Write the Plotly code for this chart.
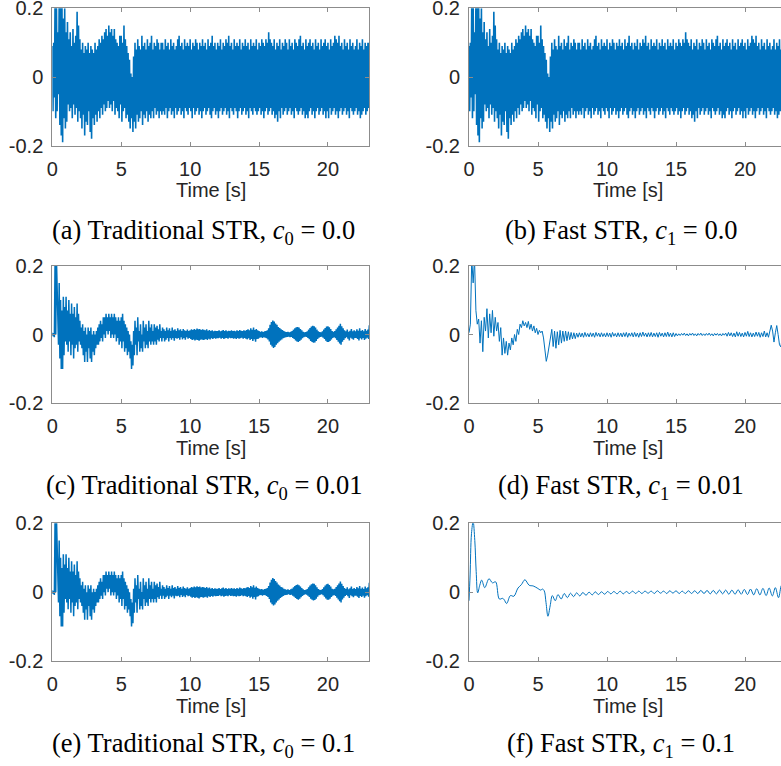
import plotly.graph_objects as go

# ---------------------------------------------------------------------------
# Data: response signals sampled every 0.1 s over 0 ... 23 s
# ---------------------------------------------------------------------------
time = [round(0.1 * i, 1) for i in range(231)]

# c = 0.0 : dense oscillation, upper / lower excursion per 0.1 s window
trad_c00_hi = [
    0.09, 0.10, 0.22, 0.22, 0.13, 0.22, 0.21, 0.22, 0.17, 0.20,
    0.13, 0.16, 0.11, 0.13, 0.09, 0.14, 0.10, 0.12, 0.19, 0.15,
    0.11, 0.08, 0.10, 0.07, 0.09, 0.08, 0.10, 0.07, 0.09, 0.08,
    0.07, 0.10, 0.08, 0.09, 0.11, 0.10, 0.12, 0.11, 0.13, 0.14,
    0.12, 0.15, 0.13, 0.14, 0.12, 0.14, 0.11, 0.10, 0.09, 0.12,
    0.12, 0.10, 0.15, 0.11, 0.09, 0.07, 0.05, 0.01, 0.00, 0.06,
    0.10, 0.08, 0.11, 0.09, 0.08, 0.12, 0.09, 0.10, 0.08, 0.11,
    0.09, 0.10, 0.12, 0.08, 0.10, 0.09, 0.11, 0.10, 0.08, 0.10,
    0.10, 0.08, 0.11, 0.09, 0.10, 0.08, 0.11, 0.09, 0.10, 0.08,
    0.09, 0.11, 0.12, 0.09, 0.10, 0.08, 0.11, 0.09, 0.10, 0.09,
    0.11, 0.08, 0.10, 0.09, 0.11, 0.10, 0.08, 0.10, 0.09, 0.11,
    0.09, 0.10, 0.08, 0.11, 0.09, 0.10, 0.12, 0.09, 0.10, 0.08,
    0.10, 0.09, 0.11, 0.08, 0.10, 0.09, 0.11, 0.10, 0.12, 0.09,
    0.10, 0.08, 0.11, 0.09, 0.10, 0.09, 0.11, 0.08, 0.10, 0.09,
    0.11, 0.09, 0.10, 0.08, 0.11, 0.09, 0.10, 0.09, 0.11, 0.08,
    0.10, 0.09, 0.11, 0.10, 0.09, 0.11, 0.10, 0.13, 0.11, 0.10,
    0.09, 0.11, 0.08, 0.10, 0.09, 0.11, 0.08, 0.10, 0.09, 0.11,
    0.10, 0.08, 0.11, 0.09, 0.10, 0.08, 0.11, 0.10, 0.09, 0.11,
    0.12, 0.09, 0.10, 0.08, 0.11, 0.09, 0.10, 0.11, 0.09, 0.10,
    0.08, 0.11, 0.09, 0.10, 0.08, 0.11, 0.09, 0.10, 0.11, 0.09,
    0.10, 0.08, 0.11, 0.09, 0.10, 0.12, 0.11, 0.10, 0.12, 0.09,
    0.10, 0.08, 0.11, 0.09, 0.10, 0.08, 0.11, 0.09, 0.10, 0.08,
    0.09, 0.11, 0.08, 0.10, 0.09, 0.11, 0.08, 0.10, 0.09, 0.10,
    0.10,
]
trad_c00_lo = [
    -0.10, -0.06, -0.12, -0.10, -0.05, -0.14, -0.17, -0.19, -0.12, -0.15,
    -0.13, -0.08, -0.10, -0.09, -0.12, -0.08, -0.11, -0.09, -0.13, -0.10,
    -0.12, -0.15, -0.11, -0.17, -0.13, -0.14, -0.10, -0.16, -0.18, -0.12,
    -0.14, -0.11, -0.13, -0.10, -0.12, -0.09, -0.11, -0.08, -0.10, -0.09,
    -0.07, -0.09, -0.08, -0.10, -0.07, -0.11, -0.09, -0.10, -0.12, -0.08,
    -0.13, -0.10, -0.09, -0.12, -0.11, -0.13, -0.15, -0.12, -0.16, -0.13,
    -0.15, -0.11, -0.13, -0.12, -0.10, -0.14, -0.11, -0.12, -0.10, -0.13,
    -0.11, -0.12, -0.10, -0.12, -0.09, -0.11, -0.10, -0.12, -0.10, -0.11,
    -0.10, -0.11, -0.09, -0.12, -0.10, -0.09, -0.11, -0.10, -0.12, -0.09,
    -0.11, -0.10, -0.09, -0.11, -0.10, -0.12, -0.09, -0.10, -0.11, -0.09,
    -0.10, -0.12, -0.09, -0.11, -0.10, -0.09, -0.11, -0.10, -0.12, -0.10,
    -0.09, -0.11, -0.10, -0.09, -0.11, -0.12, -0.10, -0.09, -0.11, -0.10,
    -0.12, -0.10, -0.09, -0.11, -0.10, -0.09, -0.11, -0.10, -0.12, -0.09,
    -0.10, -0.11, -0.09, -0.10, -0.12, -0.10, -0.09, -0.11, -0.10, -0.09,
    -0.11, -0.10, -0.12, -0.09, -0.10, -0.11, -0.09, -0.10, -0.11, -0.10,
    -0.09, -0.11, -0.10, -0.12, -0.10, -0.09, -0.11, -0.10, -0.09, -0.11,
    -0.10, -0.12, -0.11, -0.13, -0.10, -0.12, -0.09, -0.11, -0.10, -0.09,
    -0.11, -0.10, -0.09, -0.11, -0.10, -0.12, -0.09, -0.10, -0.11, -0.10,
    -0.09, -0.11, -0.10, -0.12, -0.11, -0.12, -0.10, -0.09, -0.11, -0.10,
    -0.12, -0.10, -0.09, -0.11, -0.10, -0.09, -0.11, -0.10, -0.12, -0.10,
    -0.12, -0.09, -0.11, -0.10, -0.09, -0.11, -0.10, -0.12, -0.10, -0.09,
    -0.11, -0.10, -0.09, -0.11, -0.10, -0.12, -0.09, -0.10, -0.11, -0.10,
    -0.09, -0.11, -0.10, -0.12, -0.11, -0.10, -0.09, -0.11, -0.10, -0.09,
    -0.07,
]
# with no compensation gain both schemes give the same response
fast_c00_hi = list(trad_c00_hi)
fast_c00_lo = list(trad_c00_lo)

# traditional scheme, c0 = 0.01 (c0 = 0.1 gives the same trace)
trad_c001_hi = [
    0.005, 0.004, 0.21, 0.22, 0.05, 0.15, 0.10, 0.07, 0.11, 0.08,
    0.11, 0.07, 0.10, 0.06, 0.09, 0.06, 0.08, 0.05, 0.09, 0.06,
    0.04, 0.02, 0.03, 0.01, 0.02, 0.00, 0.02, 0.01, 0.02, 0.00,
    0.01, 0.00, 0.01, 0.02, 0.03, 0.04, 0.03, 0.05, 0.05, 0.06,
    0.05, 0.06, 0.05, 0.06, 0.05, 0.06, 0.05, 0.04, 0.05, 0.04,
    0.05, 0.06, 0.04, 0.03, 0.02, 0.01, 0.00, -0.02, -0.03, 0.01,
    0.04, 0.02, 0.05, 0.01, 0.03, 0.00, 0.04, 0.02, 0.03, 0.01,
    0.04, 0.02, 0.03, 0.01, 0.03, 0.02, 0.025, 0.015, 0.03, 0.01,
    0.02, 0.015, 0.01, 0.02, 0.012, 0.018, 0.01, 0.02, 0.012, 0.015,
    0.01, 0.018, 0.012, 0.015, 0.01, 0.016, 0.012, 0.01, 0.014, 0.01,
    0.012, 0.015, 0.013, 0.016, 0.014, 0.017, 0.015, 0.016, 0.013, 0.015,
    0.014, 0.012, 0.015, 0.011, 0.013, 0.010, 0.012, 0.009, 0.011, 0.010,
    0.010, 0.012, 0.009, 0.011, 0.013, 0.010, 0.012, 0.009, 0.011, 0.010,
    0.012, 0.010, 0.011, 0.009, 0.012, 0.010, 0.013, 0.011, 0.010, 0.012,
    0.011, 0.013, 0.015, 0.012, 0.018, 0.014, 0.020, 0.013, 0.016, 0.012,
    0.010, 0.008, 0.009, 0.007, 0.009, 0.010, 0.012, 0.018, 0.028, 0.036,
    0.041, 0.038, 0.032, 0.028, 0.022, 0.019, 0.015, 0.013, 0.010, 0.008,
    0.007, 0.008, 0.006, 0.008, 0.010, 0.014, 0.018, 0.021, 0.022, 0.020,
    0.016, 0.012, 0.008, 0.006, 0.007, 0.009, 0.014, 0.019, 0.023, 0.025,
    0.024, 0.020, 0.014, 0.009, 0.007, 0.006, 0.009, 0.014, 0.019, 0.023,
    0.024, 0.021, 0.016, 0.010, 0.008, 0.010, 0.015, 0.020, 0.025, 0.031,
    0.024, 0.018, 0.012, 0.009, 0.014, 0.008, 0.011, 0.016, 0.009, 0.012,
    0.009, 0.015, 0.011, 0.018, 0.010, 0.013, 0.009, 0.016, 0.011, 0.014,
    0.027,
]
trad_c001_lo = [
    -0.005, -0.008, 0.00, 0.10, -0.03, -0.07, -0.10, -0.10, -0.06, -0.02,
    -0.03, -0.05, -0.02, -0.06, -0.03, -0.07, -0.04, -0.03, -0.05, -0.02,
    -0.03, -0.04, -0.06, -0.08, -0.05, -0.08, -0.04, -0.07, -0.08, -0.05,
    -0.06, -0.04, -0.03, -0.03, -0.02, -0.01, -0.02, 0.00, -0.01, 0.01,
    0.00, 0.01, -0.01, 0.00, -0.01, 0.00, -0.02, -0.01, -0.03, -0.02,
    -0.04, -0.02, -0.05, -0.04, -0.06, -0.05, -0.07, -0.10, -0.09, -0.06,
    -0.03, -0.06, -0.02, -0.05, -0.04, -0.05, -0.02, -0.04, -0.03, -0.04,
    -0.02, -0.03, -0.02, -0.03, -0.02, -0.03, -0.015, -0.02, -0.01, -0.02,
    -0.01, -0.02, -0.015, -0.01, -0.02, -0.01, -0.015, -0.01, -0.018, -0.01,
    -0.012, -0.01, -0.015, -0.008, -0.014, -0.01, -0.015, -0.008, -0.012, -0.01,
    -0.013, -0.016, -0.014, -0.017, -0.015, -0.016, -0.018, -0.015, -0.014, -0.016,
    -0.015, -0.013, -0.016, -0.012, -0.014, -0.011, -0.013, -0.010, -0.012, -0.011,
    -0.011, -0.009, -0.012, -0.010, -0.013, -0.011, -0.010, -0.012, -0.009, -0.011,
    -0.010, -0.012, -0.011, -0.013, -0.010, -0.012, -0.011, -0.009, -0.012, -0.010,
    -0.012, -0.014, -0.011, -0.016, -0.013, -0.019, -0.014, -0.021, -0.013, -0.012,
    -0.009, -0.008, -0.010, -0.008, -0.009, -0.011, -0.014, -0.020, -0.030, -0.035,
    -0.039, -0.036, -0.030, -0.025, -0.021, -0.017, -0.014, -0.011, -0.009, -0.008,
    -0.007, -0.006, -0.008, -0.007, -0.010, -0.013, -0.017, -0.020, -0.022, -0.019,
    -0.015, -0.011, -0.008, -0.006, -0.007, -0.010, -0.014, -0.019, -0.022, -0.024,
    -0.023, -0.019, -0.013, -0.009, -0.007, -0.006, -0.009, -0.013, -0.018, -0.022,
    -0.022, -0.019, -0.014, -0.010, -0.008, -0.011, -0.016, -0.021, -0.026, -0.030,
    -0.021, -0.016, -0.011, -0.008, -0.012, -0.017, -0.009, -0.012, -0.015, -0.010,
    -0.010, -0.013, -0.017, -0.011, -0.014, -0.010, -0.016, -0.012, -0.009, -0.013,
    -0.004,
]
trad_c01_hi = list(trad_c001_hi)
trad_c01_lo = list(trad_c001_lo)

# fast scheme, c1 = 0.01 (one value per 0.1 s)
fast_c001 = [
    0.005, 0.03, 0.22, 0.15, 0.22, 0.07, 0.03, 0.045, -0.025, 0.04,
    -0.05, 0.05, 0.01, 0.075, -0.01, 0.06, 0.005, 0.07, -0.005, 0.05,
    0.01, 0.035, -0.02, 0.02, -0.06, -0.01, -0.055, -0.02, -0.06, -0.025,
    -0.045, -0.01, -0.03, 0.0, -0.02, 0.015, 0.0, 0.03, 0.02, 0.04,
    0.025, 0.035, 0.02, 0.038, 0.015, 0.03, 0.01, 0.025, 0.005, 0.018,
    0.0, 0.012, 0.005, 0.01, -0.01, -0.05, -0.078, -0.06, -0.03, 0.0,
    0.015, -0.035, 0.01, -0.04, 0.008, -0.03, 0.012, -0.025, 0.01, -0.02,
    0.01, -0.018, 0.008, -0.015, 0.006, -0.013, 0.005, -0.012, 0.004, -0.008,
    0.005, -0.007, 0.004, -0.008, 0.006, -0.006, 0.003, -0.007, 0.005, -0.006,
    0.004, -0.008, 0.006, -0.005, 0.004, -0.007, 0.005, -0.006, 0.003, -0.007,
    0.005, -0.006, 0.004, -0.008, 0.006, -0.005, 0.003, -0.007, 0.005, -0.006,
    0.004, -0.007, 0.005, -0.006, 0.006, -0.008, 0.004, -0.005, 0.005, -0.007,
    0.006, -0.006, 0.004, -0.008, 0.005, -0.006, 0.007, -0.005, 0.004, -0.007,
    0.005, -0.006, 0.006, -0.007, 0.004, -0.006, 0.005, -0.008, 0.006, -0.005,
    0.004, -0.007, 0.005, -0.006, 0.007, -0.006, 0.004, -0.007, 0.005, -0.006,
    0.003, -0.004, 0.002, -0.003, 0.003, -0.002, 0.004, -0.003, 0.002, -0.004,
    0.003, -0.002, 0.004, -0.003, 0.002, -0.004, 0.003, -0.002, 0.004, -0.003,
    0.002, -0.003, 0.003, -0.002, 0.004, -0.003, 0.002, -0.004, 0.003, -0.002,
    0.003, -0.003, 0.002, -0.004, 0.003, -0.002, 0.004, -0.005, 0.006, -0.004,
    0.005, -0.006, 0.004, -0.007, 0.008, -0.005, 0.006, -0.006, 0.004, -0.007,
    0.006, -0.005, 0.009, -0.006, 0.005, -0.007, 0.004, -0.006, 0.007, -0.005,
    0.006, -0.008, 0.005, -0.006, 0.010, -0.007, 0.005, -0.008, 0.012, 0.027,
    0.010, -0.022, 0.005, 0.026, 0.000, -0.030, -0.036, -0.010, 0.020, 0.010,
    -0.020,
]

# fast scheme, c1 = 0.1 : smooth response, listed at its turning points
fast_c01_t = [
    0.00, 0.08, 0.18, 0.30, 0.42, 0.52, 0.63, 0.78, 0.92, 1.14,
    1.45, 1.70, 1.93, 2.20, 2.44, 2.55, 2.73, 3.00, 3.25, 3.55,
    3.80, 4.05, 4.36, 4.65, 4.94, 5.20, 5.32, 5.45, 5.58, 5.72,
    5.88, 6.04, 6.25, 6.45, 6.68,
    6.90, 7.13, 7.35, 7.58, 7.80, 8.03, 8.25, 8.48, 8.70, 8.93,
    9.15, 9.38, 9.60, 9.83, 10.05, 10.28, 10.50, 10.73, 10.95, 11.18,
    11.40, 11.63, 11.85, 12.08, 12.30, 12.53, 12.75, 12.98, 13.20, 13.43,
    13.65, 13.88, 14.10, 14.33, 14.55, 14.78, 15.00, 15.23, 15.45, 15.68,
    15.90, 16.13, 16.35, 16.58, 16.80, 17.03, 17.25, 17.48, 17.70, 17.93,
    18.15, 18.38, 18.60, 18.83, 19.05, 19.28, 19.50, 19.73, 19.95, 20.18,
    20.40, 20.63, 20.85, 21.08, 21.30, 21.53, 21.75, 21.98, 22.20, 22.43,
    22.65, 22.88, 23.00,
]
fast_c01_y = [
    -0.025, 0.05, 0.17, 0.205, 0.15, 0.06, -0.002, 0.02, 0.035, 0.013,
    0.039, 0.027, 0.03, -0.02, -0.018, -0.022, -0.033, -0.01, -0.012, 0.012,
    0.022, 0.036, 0.02, 0.018, 0.012, 0.006, 0.009, 0.004, -0.03, -0.07,
    -0.04, -0.01, -0.025, -0.007, -0.02,
    -0.004, -0.016, -0.003, -0.013, -0.002, -0.011, -0.001, -0.009, 0.000, -0.008,
    0.001, -0.007, 0.001, -0.006, 0.002, -0.005, 0.002, -0.005, 0.003, -0.005,
    0.002, -0.004, 0.003, -0.004, 0.003, -0.004, 0.003, -0.003, 0.003, -0.004,
    0.004, -0.003, 0.003, -0.004, 0.004, -0.003, 0.004, -0.004, 0.003, -0.004,
    0.004, -0.004, 0.004, -0.004, 0.005, -0.004, 0.005, -0.005, 0.005, -0.005,
    0.006, -0.005, 0.006, -0.006, 0.006, -0.006, 0.007, -0.006, 0.008, -0.007,
    0.009, -0.008, 0.010, -0.008, 0.011, -0.010, 0.012, -0.011, 0.013, -0.016,
    0.020, -0.005, 0.010,
]

captions = [
    "(a) Traditional STR, <i>c</i><sub>0</sub> = 0.0",
    "(b) Fast STR, <i>c</i><sub>1</sub> = 0.0",
    "(c) Traditional STR, <i>c</i><sub>0</sub> = 0.01",
    "(d) Fast STR, <i>c</i><sub>1</sub> = 0.01",
    "(e) Traditional STR, <i>c</i><sub>0</sub> = 0.1",
    "(f) Fast STR, <i>c</i><sub>1</sub> = 0.1",
]
x_ticks = [0, 5, 10, 15, 20]
y_ticks = [-0.2, 0, 0.2]
y_tick_text = ["-0.2", "0", "0.2"]


def band(t, hi, lo):
    """Interleave the upper and lower excursions into one zig-zag trace."""
    xs, ys = [], []
    for ti, h, l in zip(t, hi, lo):
        xs += [ti, ti + 0.05]
        ys += [h, l]
    return xs, ys


# ---------------------------------------------------------------------------
# Figure layout (pixel geometry of the 781 x 766 page)
# ---------------------------------------------------------------------------
W, H = 781, 766
LINE = "#0072BD"
AXIS = "#8c8c8c"
TICKFONT = dict(family="Liberation Sans, Arial, sans-serif", size=20, color="#262626")
CAPFONT = dict(family="Liberation Serif, Times New Roman, serif", size=26.5, color="#000000")

col_px = [(52.3, 369.3), (469.0, 781.0)]
col_range = [[0, 23], [0, (781.0 - 469.0) / 13.8]]
row_px = [(8.3, 145.7), (265.7, 403.3), (523.3, 661.0)]
xlabel_y = [190, 448, 706]
caption_y = [232, 487, 745]
caption_x = [203.5, 621]
xlabel_x = [210.8, 628]

traces = [
    band(time, trad_c00_hi, trad_c00_lo),
    band(time, fast_c00_hi, fast_c00_lo),
    band(time, trad_c001_hi, trad_c001_lo),
    (time, fast_c001),
    band(time, trad_c01_hi, trad_c01_lo),
    (fast_c01_t, fast_c01_y),
]
widths = [1.6, 1.6, 1.5, 1.0, 1.5, 1.0]

fig = go.Figure()
layout = dict(
    width=W, height=H,
    margin=dict(l=0, r=0, t=0, b=0, autoexpand=False),
    paper_bgcolor="white", plot_bgcolor="white",
    showlegend=False,
    annotations=[],
)

for k in range(6):
    r, c = divmod(k, 2)
    n = k + 1
    xs, ys = traces[k]
    fig.add_trace(go.Scatter(
        x=xs, y=ys, mode="lines",
        line=dict(color=LINE, width=widths[k],
                  shape="spline" if k == 5 else "linear"),
        xaxis=f"x{n}", yaxis=f"y{n}", hoverinfo="skip",
    ))
    x0, x1 = col_px[c]
    y0, y1 = row_px[r]
    layout[f"xaxis{n}"] = dict(
        domain=[x0 / W, x1 / W], range=col_range[c], anchor=f"y{n}",
        tickvals=x_ticks, ticks="inside", ticklen=4, tickcolor=AXIS,
        showline=True, linecolor=AXIS, linewidth=1, mirror="ticks",
        showgrid=False, zeroline=False, tickfont=TICKFONT,
        ticklabelstandoff=5, automargin=False, ticklabeloverflow="allow",
    )
    layout[f"yaxis{n}"] = dict(
        domain=[1 - y1 / H, 1 - y0 / H], range=[-0.2, 0.2], anchor=f"x{n}",
        tickvals=y_ticks, ticktext=y_tick_text, ticks="inside", ticklen=4,
        tickcolor=AXIS, showline=True, linecolor=AXIS, linewidth=1,
        mirror="ticks" if c == 0 else False,
        showgrid=False, zeroline=False, tickfont=TICKFONT,
        ticklabelstandoff=4, automargin=False, ticklabeloverflow="allow",
    )
    layout["annotations"].append(dict(
        text="Time [s]", xref="paper", yref="paper",
        x=xlabel_x[c] / W, y=1 - xlabel_y[r] / H,
        xanchor="center", yanchor="middle", showarrow=False, font=TICKFONT,
    ))
    layout["annotations"].append(dict(
        text=captions[k], xref="paper", yref="paper",
        x=caption_x[c] / W, y=1 - caption_y[r] / H,
        xanchor="center", yanchor="middle", showarrow=False, font=CAPFONT,
    ))

fig.update_layout(template="none", **layout)
fig.write_html("out.html")
